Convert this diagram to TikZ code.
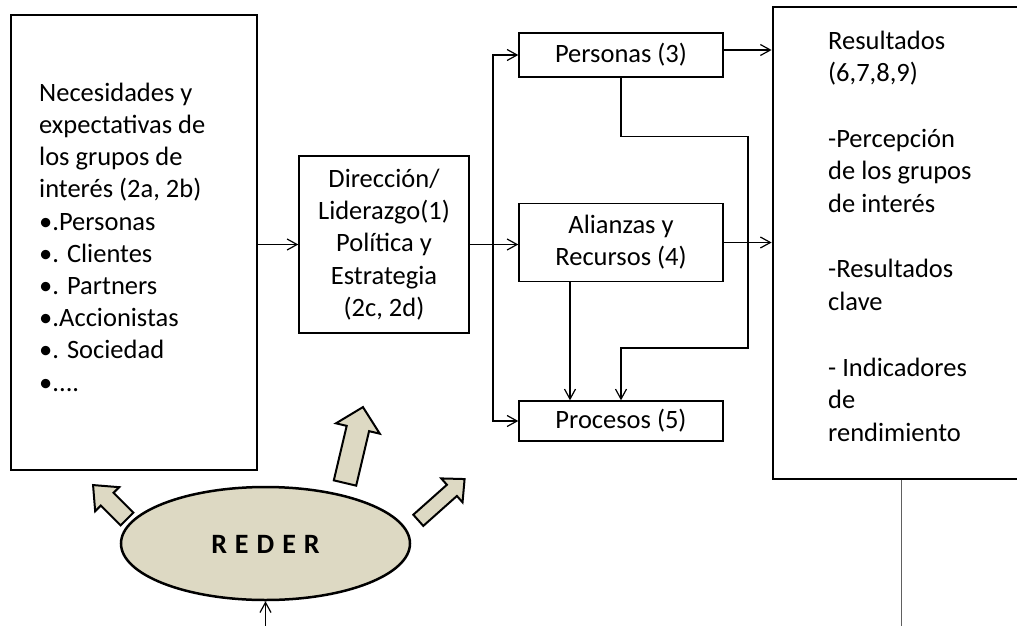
\documentclass[tikz,border=0pt]{standalone}
\usepackage{fontspec}
\setmainfont{Carlito}
\usetikzlibrary{arrows.meta,shapes.geometric}
\definecolor{tanfill}{RGB}{221,217,195}
\definecolor{lgray}{RGB}{96,96,96}
\newcommand{\blockarrow}[6]{% tail; angle; length; shaft width; head width; head length
  \begin{scope}[shift={(#1)},rotate=#2]
    \filldraw[barrow] (0,-#4/2) -- (#3-#6,-#4/2) -- (#3-#6,-#5/2) -- (#3,0)
      -- (#3-#6,#5/2) -- (#3-#6,#4/2) -- (0,#4/2) -- cycle;
  \end{scope}}
\begin{document}
\begin{tikzpicture}[x=1pt,y=-1pt,
  thinbox/.style={draw, line width=1.4pt, inner sep=0pt, align=center,
    font=\fontsize{26.5}{32.2}\selectfont},
  thickbox/.style={draw, line width=2.8pt, inner sep=0pt},
  txt/.style={inner sep=0pt, align=left, anchor=north west},
  conn/.style={line width=1.2pt, -{Straight Barb[length=10pt,width=11pt,line width=1.2pt]}},
  grayline/.style={line width=1.3pt, draw=lgray},
  barrow/.style={fill=tanfill, draw=black, line width=2pt, line join=miter}
]
\clip (0,0) rectangle (1017,626);

% left box
\node[thickbox, minimum width=246pt, minimum height=455pt] (needs) at (134,242.5) {};
\node[txt, font=\fontsize{26.5}{32.2}\selectfont] (needstext) at (39,78.5)
  {\strut Necesidades y\\ expectativas de\\ los grupos de\\ interés (2a, 2b)\\
   •.Personas\\ •. Clientes\\ •. Partners\\ •.Accionistas\\ •. Sociedad\\ •....};

% direction box
\node[thinbox, minimum width=170pt, minimum height=177pt] (dir) at (384,244.5)
  {Dirección/\\ Liderazgo(1)\\ Política y\\ Estrategia\\ (2c, 2d)};

% middle boxes
\node[thinbox, minimum width=204pt, minimum height=44pt] (pers) at (621,55) {Personas (3)};
\node[thinbox, minimum width=204pt, minimum height=78pt] (ali) at (621,242.5) {Alianzas y\\ Recursos (4)};
\node[thinbox, minimum width=204pt, minimum height=40pt] (proc) at (621,421) {Procesos (5)};

% results box
\node[thickbox, minimum width=257pt, minimum height=472pt] (res) at (901.5,243) {};
\node[txt, font=\fontsize{26.5}{32.7}\selectfont] (restext) at (828,26)
  {\strut Resultados\\ (6,7,8,9)\\[32.7pt] -Percepción\\ de los grupos\\ de interés\\[32.7pt]
   -Resultados\\ clave\\[32.7pt] - Indicadores\\ de\\ rendimiento};

% REDER ellipse
\node[ellipse, draw, fill=tanfill, line width=2.5pt, minimum width=289pt,
  minimum height=113pt, inner sep=0pt, text depth=0pt,
  font=\fontsize{28}{32}\selectfont\bfseries] (reder) at (265.5,543.5)
  {\raisebox{-2pt}{\spaceskip=8pt R E D E R}};

% block arrows
\blockarrow{127,519}{135}{48}{18}{34}{20}
\blockarrow{345,483}{76.7}{78}{23}{45}{22}
\blockarrow{418.3,520.3}{41.7}{62}{15}{32}{17}

% connectors
\coordinate (bus) at (493,244.5);
\coordinate (rin) at (265.5,626);
\draw[conn] (needs.east |- dir.west) -- (dir.west);
\draw[conn] (dir.east) -- (dir.east -| ali.west);
\draw[conn] (bus) |- (pers.west);
\draw[conn] (bus) |- (proc.west);
\draw[conn] ([yshift=5pt]pers.east) -- ([yshift=5pt]pers.east -| res.west);
\draw[conn] (ali.east) -- (ali.east -| res.west);
\draw[conn] (pers.south) -- ++(0,59) -| (748,348) -| (proc.north);
\draw[conn] ([xshift=-51pt]ali.south) -- ([xshift=-51pt]proc.north);
\draw[conn] (rin) -- (reder.south);
\draw[grayline] (res.south) -- (res.south |- rin);
\end{tikzpicture}
\end{document}
